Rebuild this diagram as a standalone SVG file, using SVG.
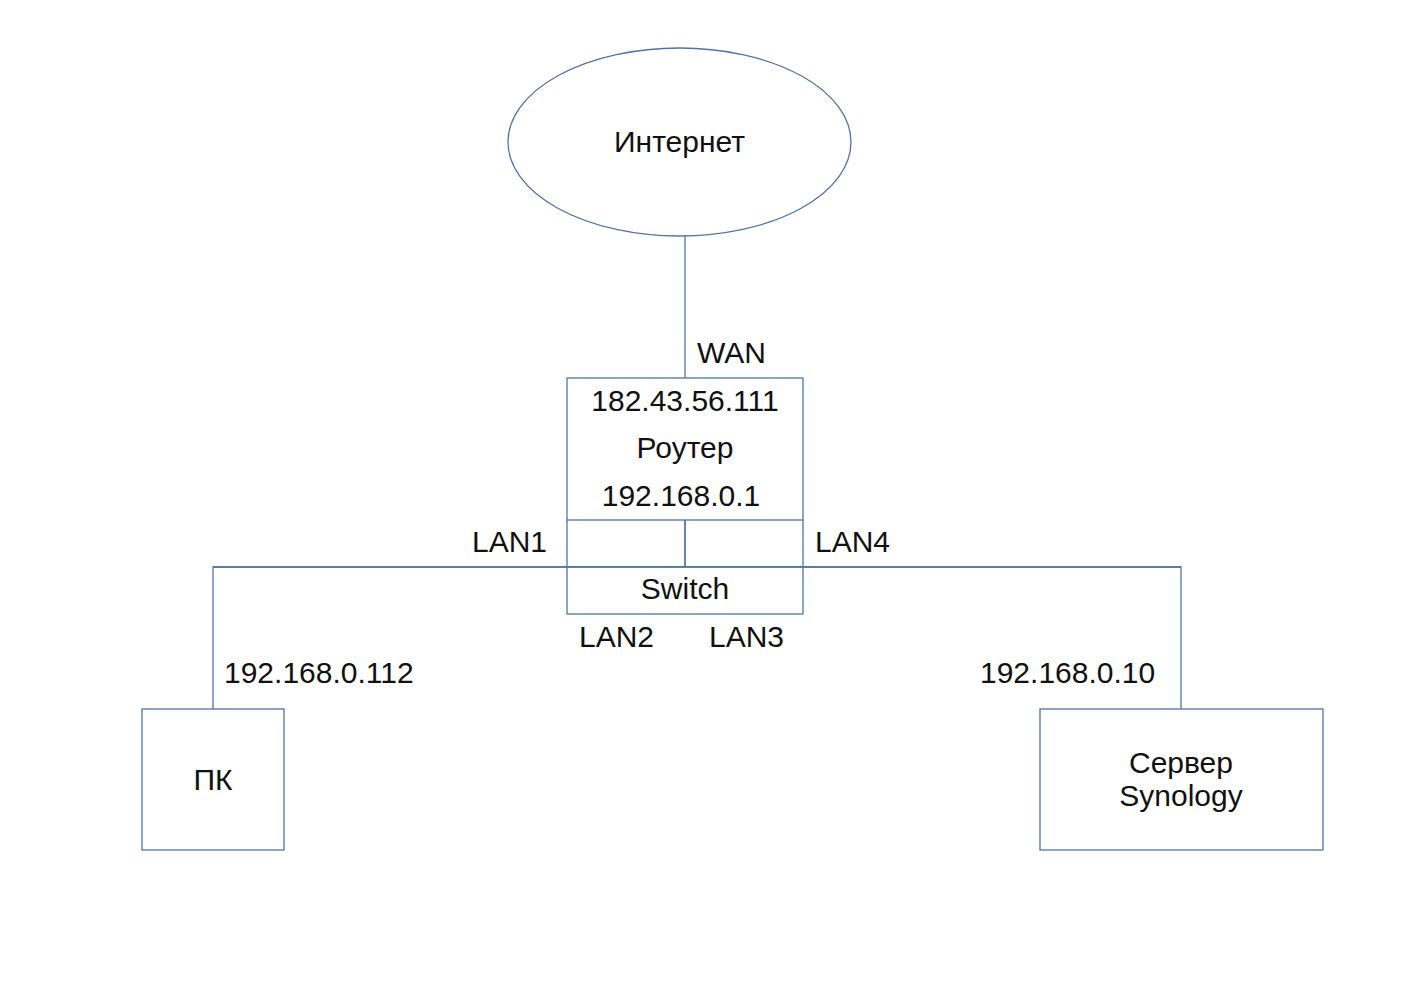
<svg xmlns="http://www.w3.org/2000/svg" width="1403" height="992" viewBox="0 0 1403 992">
<style>
.s{fill:#fff;stroke:#4f73a8;stroke-width:1.3}
.c{fill:none;stroke:#4f73a8;stroke-width:1.3}
text{font-family:"Liberation Sans",Arial,sans-serif;font-size:30px;fill:#111}
.m{text-anchor:middle}
</style>
<rect width="1403" height="992" fill="#fff"/>
<g id="connectors">
<path class="c" d="M685,236 V378"/>
<path class="c" d="M685,520 V567"/>
<path class="c" d="M213,709 V567 H1181 V709"/>
</g>
<g id="internet">
<ellipse class="s" cx="679.5" cy="142" rx="171.5" ry="94"/>
<text class="m" x="679.5" y="152">Интернет</text>
</g>
<g id="router">
<rect class="s" x="567" y="378" width="236" height="142"/>
<text class="m" x="685" y="411">182.43.56.111</text>
<text class="m" x="685" y="458">Роутер</text>
<text class="m" x="681" y="506">192.168.0.1</text>
</g>
<g id="switch">
<rect class="s" x="567" y="567" width="236" height="47"/>
<text class="m" x="685" y="599">Switch</text>
</g>
<path class="c" d="M567,520 V567 M803,520 V567 M685,520 V567 M213,567 H1181"/>
<g id="pc">
<rect class="s" x="142" y="709" width="142" height="141"/>
<text class="m" x="213" y="790">ПК</text>
</g>
<g id="server">
<rect class="s" x="1040" y="709" width="283" height="141"/>
<text class="m" x="1181" y="773">Сервер</text>
<text class="m" x="1181" y="806">Synology</text>
</g>
<g id="labels">
<text x="697" y="363">WAN</text>
<text x="472" y="552">LAN1</text>
<text x="815" y="552">LAN4</text>
<text x="579" y="647">LAN2</text>
<text x="709" y="647">LAN3</text>
<text x="224" y="683">192.168.0.112</text>
<text x="980" y="683">192.168.0.10</text>
</g>
</svg>
